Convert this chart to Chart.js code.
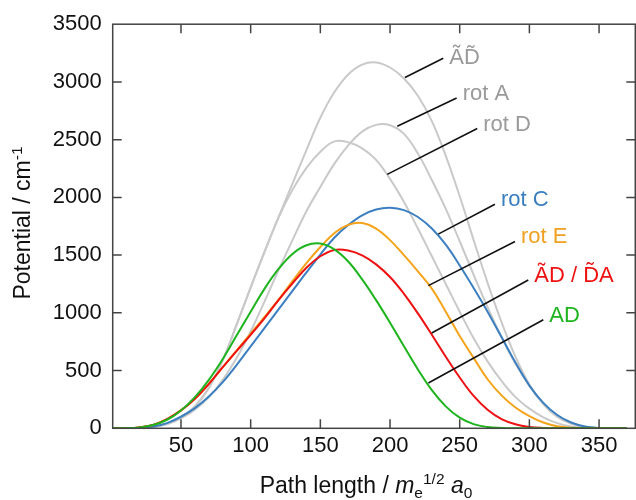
<!DOCTYPE html>
<html>
<head>
<meta charset="utf-8">
<script src="https://cdn.jsdelivr.net/npm/chart.js@4.4.1/dist/chart.umd.min.js"></script>
<style>
  html, body { margin: 0; padding: 0; background: #fff; }
  #wrap { width: 636px; height: 500px; }
</style>
</head>
<body>
<div id="wrap"><canvas id="potChart" width="636" height="500"></canvas></div>
<script>
// path coordinate (m_e^1/2 a0) shared by all curves
const pathLength = [0, 10, 20, 30, 40, 50, 60, 70, 80, 90,
  100, 110, 120, 130, 140, 150, 160, 170, 180, 190,
  200, 210, 220, 230, 240, 250, 260, 270, 280, 290,
  300, 310, 320, 330, 340, 350, 360, 370];

// potential along each path, cm-1
const potAD = [0, 1, 7, 28, 74, 155, 270, 420, 600, 805,
  1010, 1210, 1380, 1510, 1585, 1600, 1550, 1445, 1290, 1110,
  915, 710, 510, 330, 190, 92, 36, 11, 3, 0,
  0, 0, 0, 0, 0, 0, 0, 0];
const potADtDA = [0, 1, 8, 30, 80, 155, 255, 385, 530, 670,
  810, 955, 1110, 1255, 1390, 1490, 1545, 1540, 1498, 1420,
  1310, 1165, 995, 810, 620, 440, 280, 160, 80, 35,
  12, 3, 0, 0, 0, 0, 0, 0];
const potRotE = [0, 1, 8, 30, 80, 155, 255, 385, 530, 675,
  820, 965, 1115, 1275, 1430, 1570, 1690, 1762, 1779, 1730,
  1630, 1500, 1360, 1210, 1010, 800, 610, 425, 285, 180,
  105, 50, 18, 4, 0, 0, 0, 0];
const potRotC = [0, 0, 3, 15, 45, 100, 175, 275, 400, 550,
  710, 870, 1030, 1190, 1350, 1505, 1650, 1760, 1845, 1895,
  1910, 1890, 1830, 1730, 1590, 1410, 1215, 1010, 790, 570,
  370, 220, 115, 50, 15, 3, 0, 0];
const potAtDt = [0, 0, 3, 12, 40, 100, 190, 350, 590, 900,
  1220, 1530, 1830, 2120, 2410, 2690, 2910, 3065, 3150, 3169,
  3125, 3030, 2880, 2660, 2360, 2010, 1630, 1260, 920, 620,
  380, 210, 100, 40, 12, 2, 0, 0];
const potRotA = [0, 0, 2, 10, 35, 85, 160, 270, 420, 610,
  840, 1100, 1370, 1630, 1880, 2090, 2290, 2450, 2570, 2628,
  2625, 2550, 2380, 2150, 1900, 1620, 1330, 1050, 790, 560,
  370, 210, 100, 40, 12, 2, 0, 0];
const potRotD = [0, 0, 3, 12, 40, 100, 190, 350, 590, 900,
  1220, 1530, 1825, 2065, 2255, 2395, 2485, 2478, 2425, 2325,
  2160, 1960, 1730, 1490, 1250, 1010, 780, 580, 410, 270,
  170, 95, 45, 15, 3, 0, 0, 0];

const xTicks = [50, 100, 150, 200, 250, 300, 350];
const yTicks = [0, 500, 1000, 1500, 2000, 2500, 3000, 3500];

const FONT = "'Liberation Sans', Arial, sans-serif";
const GRAY = '#c9c9c9';

function series(vals, color) {
  return {
    data: pathLength.map((p, i) => ({ x: p, y: vals[i] })),
    borderColor: color,
    borderWidth: 2,
    pointRadius: 0,
    fill: false,
    tension: 0.4
  };
}

// curve names with leader lines; anchor sits on the curve, tip is where the text starts (data units)
const curveNotes = [
  { text: 'A\u0303D\u0303', color: '#9a9a9a', anchor: [210.7, 3038], tip: [238.2, 3205], dy: 6 },
  { text: 'rot A', color: '#9a9a9a', anchor: [205.2, 2616], tip: [247.8, 2860], dy: 2 },
  { text: 'rot D', color: '#9a9a9a', anchor: [198.0, 2199], tip: [262.6, 2596], dy: 2 },
  { text: 'rot C', color: '#3a7ebf', anchor: [234.6, 1682], tip: [275.3, 1941], dy: 2 },
  { text: 'rot E', color: '#f0a020', anchor: [227.5, 1236], tip: [289.7, 1618], dy: 2 },
  { text: 'A\u0303D / D\u0303A', color: '#ee1111', anchor: [229.9, 825], tip: [299.2, 1285], dy: 2 },
  { text: 'AD', color: '#1db41d', anchor: [227.5, 393], tip: [310.0, 940], dy: 2 }
];

function drawRuns(ctx, runs, x, y) {
  runs.forEach(r => {
    ctx.font = r.font;
    ctx.fillText(r.t, x, y + (r.dy || 0));
    x += ctx.measureText(r.t).width;
  });
}
function runsWidth(ctx, runs) {
  return runs.reduce((w, r) => { ctx.font = r.font; return w + ctx.measureText(r.t).width; }, 0);
}

const decorations = {
  id: 'decorations',
  afterDatasetsDraw(chart) {
    const { ctx, chartArea: a, scales: { x, y } } = chart;
    ctx.save();

    // box with inward ticks on all four sides
    ctx.strokeStyle = '#444';
    ctx.lineWidth = 1.5;
    ctx.strokeRect(a.left, a.top, a.right - a.left, a.bottom - a.top);
    ctx.beginPath();
    xTicks.forEach(v => {
      const px = x.getPixelForValue(v);
      ctx.moveTo(px, a.bottom); ctx.lineTo(px, a.bottom - 9);
      ctx.moveTo(px, a.top); ctx.lineTo(px, a.top + 9);
    });
    yTicks.slice(1, -1).forEach(v => {
      const py = y.getPixelForValue(v);
      ctx.moveTo(a.left, py); ctx.lineTo(a.left + 9, py);
      ctx.moveTo(a.right, py); ctx.lineTo(a.right - 9, py);
    });
    ctx.stroke();

    // curve labels
    ctx.lineWidth = 1.6;
    ctx.strokeStyle = '#111';
    ctx.textBaseline = 'alphabetic';
    ctx.font = '22px ' + FONT;
    curveNotes.forEach(n => {
      const ax = x.getPixelForValue(n.anchor[0]), ay = y.getPixelForValue(n.anchor[1]);
      const tx = x.getPixelForValue(n.tip[0]), ty = y.getPixelForValue(n.tip[1]);
      ctx.beginPath();
      ctx.moveTo(ax, ay);
      ctx.lineTo(tx, ty);
      ctx.stroke();
      ctx.fillStyle = n.color;
      ctx.fillText(n.text, tx + 6, ty + n.dy);
    });

    // axis titles
    ctx.fillStyle = '#111';
    const big = '23px ' + FONT, bigIt = 'italic 23px ' + FONT, small = '15.5px ' + FONT;
    const xt = [
      { t: 'Path length / ', font: big },
      { t: 'm', font: bigIt },
      { t: 'e', font: small, dy: 5 },
      { t: '1/2', font: small, dy: -9 },
      { t: ' ', font: big },
      { t: 'a', font: bigIt },
      { t: '0', font: small, dy: 5 }
    ];
    drawRuns(ctx, xt, 366 - runsWidth(ctx, xt) / 2, 493);

    const yt = [
      { t: 'Potential / cm', font: big },
      { t: '-1', font: small, dy: -8 }
    ];
    ctx.translate(30, 223);
    ctx.rotate(-Math.PI / 2);
    drawRuns(ctx, yt, -runsWidth(ctx, yt) / 2, 0);
    ctx.restore();
  }
};

new Chart(document.getElementById('potChart'), {
  type: 'line',
  data: {
    datasets: [
      series(potAD, '#1db41d'),
      series(potADtDA, '#ee1111'),
      series(potRotE, '#f5a31a'),
      series(potRotC, '#3b7fc1'),
      series(potRotD, GRAY),
      series(potRotA, GRAY),
      series(potAtDt, GRAY)
    ]
  },
  options: {
    responsive: false,
    animation: false,
    layout: { padding: { top: 22.5, right: 0.7, left: 0, bottom: 0 } },
    plugins: { legend: { display: false }, tooltip: { enabled: false } },
    scales: {
      x: {
        type: 'linear',
        min: 1,
        max: 376,
        grid: { display: false, drawTicks: false },
        border: { display: false },
        afterBuildTicks: s => { s.ticks = xTicks.map(v => ({ value: v })); },
        afterFit: s => { s.height = 71.7; },
        ticks: { color: '#111', padding: 4, maxRotation: 0, font: { family: FONT, size: 22 }, callback: v => String(v) }
      },
      y: {
        min: 0,
        max: 3500,
        grid: { display: false, drawTicks: false },
        border: { display: false },
        afterBuildTicks: s => { s.ticks = yTicks.map(v => ({ value: v })); },
        afterFit: s => { s.width = 112.7; },
        ticks: { color: '#111', padding: 11, font: { family: FONT, size: 22 }, callback: v => String(v) }
      }
    }
  },
  plugins: [decorations]
});
</script>
</body>
</html>
